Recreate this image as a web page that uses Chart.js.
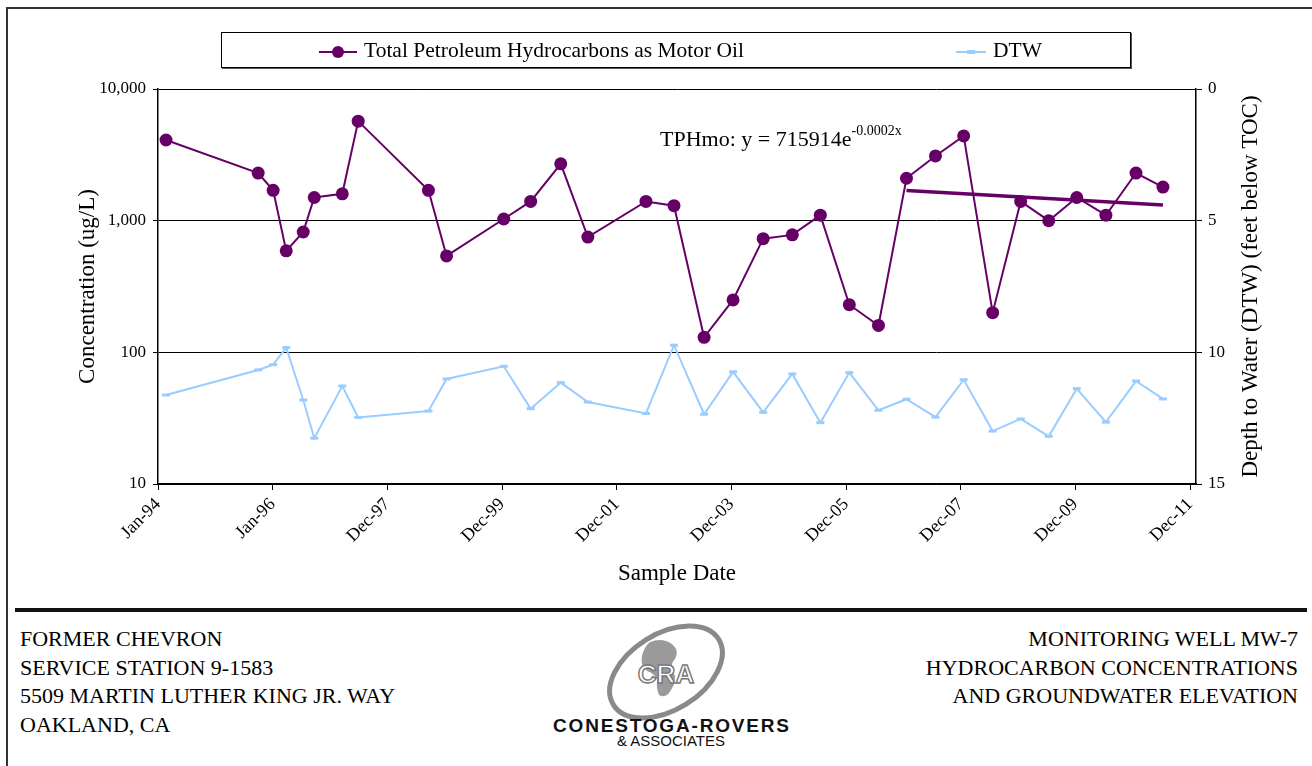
<!DOCTYPE html>
<html>
<head>
<meta charset="utf-8">
<script src="https://cdn.jsdelivr.net/npm/chart.js@4.4.0/dist/chart.umd.min.js"></script>
<style>
  body { margin: 0; background: #fff; font-family: "Liberation Serif", serif; }
  #page { position: relative; width: 1312px; height: 766px; overflow: hidden; }
  #frame { position: absolute; left: 6px; top: 7px; width: 1320px; height: 800px;
           border-left: 2px solid #333; border-top: 2px solid #333; }
  #chartWrap { position: absolute; left: 0; top: 0; width: 1312px; height: 600px; }
  #legend { position: absolute; left: 221px; top: 32px; width: 908px; height: 34px;
            border: 1px solid #000; box-shadow: 1px 1px 0 #555;
            font-family: "Liberation Serif", serif; font-size: 21.5px; }
  .item { position: absolute; top: 0; height: 34px; line-height: 34px; white-space: nowrap;
          font-family: "Liberation Serif", serif; }
  .item svg { vertical-align: middle; margin-right: 6px; }
  #eq { position: absolute; left: 660px; top: 126px; font-size: 22px; white-space: nowrap; }
  #eq sup { font-size: 14px; position: relative; top: -3px; }
  #rule { position: absolute; left: 15px; top: 608px; width: 1292px; height: 4px; background: #111; }
  .foot { position: absolute; font-size: 22px; line-height: 28.5px; top: 625px; }
  #footL { left: 20px; }
  #footR { right: 14px; text-align: right; }
  #logo { position: absolute; left: 550px; top: 622px; width: 250px; height: 130px; overflow: visible; }
</style>
</head>
<body>
<div id="page">
  <div id="frame"></div>
  <div id="chartWrap"><canvas id="mw7-chart" width="1312" height="600"></canvas></div>

  <div id="legend">
    <div class="item" style="left:96px">
      <svg width="40" height="14"><line x1="1" y1="7" x2="39" y2="7" stroke="#660066" stroke-width="2"/><circle cx="20" cy="7" r="6" fill="#660066"/></svg>Total Petroleum Hydrocarbons as Motor Oil
    </div>
    <div class="item" style="left:733px">
      <svg width="32" height="14"><line x1="1" y1="7" x2="31" y2="7" stroke="#99CCFF" stroke-width="2"/><line x1="12" y1="7" x2="20" y2="7" stroke="#99CCFF" stroke-width="4"/></svg>DTW
    </div>
  </div>

  <div id="eq">TPHmo: y = 715914e<sup>-0.0002x</sup></div>

  <div id="rule"></div>
  <div class="foot" id="footL">FORMER CHEVRON<br>SERVICE STATION 9-1583<br>5509 MARTIN LUTHER KING JR. WAY<br>OAKLAND, CA</div>
  <div class="foot" id="footR">MONITORING WELL MW-7<br>HYDROCARBON CONCENTRATIONS<br>AND GROUNDWATER ELEVATION</div>

  <svg id="logo" viewBox="0 0 250 130">
    <ellipse cx="116" cy="50" rx="62" ry="38" transform="rotate(-32 116 50)" fill="none" stroke="#8a8a8a" stroke-width="5"/>
    <path d="M100 20 q12 -5 22 2 q8 7 3 15 q-5 5 -2 12 q5 9 -2 19 q-5 9 -12 5 q-3 -7 -2 -15 q-3 -7 -10 -9 q-7 -5 -5 -15 q2 -9 8 -14z" fill="#9a9a9a"/>
    <text x="116" y="61" text-anchor="middle" font-family="Liberation Sans" font-weight="bold" font-size="26" fill="#fff" stroke="#777" stroke-width="1.4">CRA</text>
    <text x="121" y="110" text-anchor="middle" font-family="Liberation Sans" font-weight="bold" font-size="19" fill="#111" textLength="236">CONESTOGA-ROVERS</text>
    <text x="121" y="124" text-anchor="middle" font-family="Liberation Sans" font-size="15" fill="#111">&amp; ASSOCIATES</text>
  </svg>
</div>

<script>
// sample dates (approximate)
var sampleDates = [
  '1994-02-24', '1995-10-02', '1996-01-05', '1996-03-28', '1996-07-14', '1996-09-22',
  '1997-03-19', '1997-06-28', '1998-09-17', '1999-01-10', '2000-01-08', '2000-06-27',
  '2001-01-04', '2001-06-25', '2002-06-29', '2002-12-24', '2003-07-03', '2004-01-03',
  '2004-07-12', '2005-01-13', '2005-07-10', '2006-01-10', '2006-07-14', '2007-01-08',
  '2007-07-11', '2008-01-06', '2008-07-08', '2009-01-02', '2009-06-29', '2009-12-24',
  '2010-06-27', '2011-01-04', '2011-06-24'
];
// Total Petroleum Hydrocarbons as Motor Oil (ug/L)
var tphmo = [
  4100, 2300, 1700, 590, 820, 1500, 1600, 5700, 1700, 540, 1030, 1400,
  2700, 750, 1400, 1300, 130, 250, 730, 780, 1100, 230, 160, 2100,
  3100, 4400, 200, 1400, 1000, 1500, 1100, 2300, 1800
];
// depth to water (feet below TOC)
var dtw = [
  11.62, 10.67, 10.47, 9.82, 11.81, 13.26, 11.28, 12.47, 12.23, 11.01, 10.53, 12.14,
  11.15, 11.89, 12.32, 9.73, 12.35, 10.74, 12.28, 10.82, 12.67, 10.77, 12.20, 11.78,
  12.46, 11.04, 12.99, 12.53, 13.19, 11.38, 12.65, 11.09, 11.77
];
var concTicks = [10, 100, 1000, 10000];
var depthTicks = [0, 5, 10, 15];
var trendFrom = 23; // exponential trendline fitted to samples from 2007 on

var DAY = 86400000;
var monthNames = ['Jan','Feb','Mar','Apr','May','Jun','Jul','Aug','Sep','Oct','Nov','Dec'];
var xStart = Date.UTC(1994, 0, 4);
var xStep = 728 * DAY;
var xEnd = xStart + 6590 * DAY;

function toTime(s) {
  var p = s.split('-');
  return Date.UTC(+p[0], +p[1] - 1, +p[2]);
}
function dateLabel(v) {
  var d = new Date(v);
  return monthNames[d.getUTCMonth()] + '-' + String(d.getUTCFullYear()).slice(2);
}

var times = sampleDates.map(toTime);
var tphPoints = times.map(function(t, i) { return { x: t, y: tphmo[i] }; });
var dtwPoints = times.map(function(t, i) { return { x: t, y: dtw[i] }; });

// least squares fit of ln(y) against time, like the spreadsheet trendline
var tx = times.slice(trendFrom), ty = tphmo.slice(trendFrom);
var n = tx.length, sx = 0, sy = 0, sxx = 0, sxy = 0;
for (var i = 0; i < n; i++) {
  var xx = (tx[i] - tx[0]) / DAY, yy = Math.log(ty[i]);
  sx += xx; sy += yy; sxx += xx * xx; sxy += xx * yy;
}
var slope = (n * sxy - sx * sy) / (n * sxx - sx * sx);
var icpt = (sy - slope * sx) / n;
var trendPoints = [tx[0], tx[n - 1]].map(function(t) {
  return { x: t, y: Math.exp(icpt + slope * (t - tx[0]) / DAY) };
});

var serif = "'Liberation Serif', serif";
Chart.defaults.font.family = serif;
Chart.defaults.color = '#000';

// right axis title reads bottom to top
var rightTitle = {
  id: 'rightTitle',
  afterDraw: function(chart) {
    var c = chart.ctx, area = chart.chartArea;
    c.save();
    c.translate(1251, (area.top + area.bottom) / 2);
    c.rotate(-Math.PI / 2);
    c.font = '23px ' + serif;
    c.fillStyle = '#000';
    c.textAlign = 'center';
    c.textBaseline = 'middle';
    c.fillText('Depth to Water (DTW) (feet below TOC)', 0, 0);
    c.restore();
  }
};

var ctx = document.getElementById('mw7-chart').getContext('2d');
var mw7Chart = new Chart(ctx, {
  type: 'line',
  data: {
    datasets: [{
      label: 'Trend',
      data: trendPoints,
      yAxisID: 'y',
      borderColor: '#660066',
      borderWidth: 3.5,
      pointRadius: 0,
      order: 0
    }, {
      label: 'Total Petroleum Hydrocarbons as Motor Oil',
      data: tphPoints,
      yAxisID: 'y',
      borderColor: '#660066',
      backgroundColor: '#660066',
      borderWidth: 2,
      pointRadius: 6.5,
      pointBorderWidth: 0,
      order: 1
    }, {
      label: 'DTW',
      data: dtwPoints,
      yAxisID: 'y2',
      borderColor: '#99CCFF',
      backgroundColor: '#99CCFF',
      borderWidth: 2,
      pointStyle: 'line',
      pointRadius: 4,
      pointBorderWidth: 3,
      order: 2
    }]
  },
  options: {
    responsive: false,
    animation: false,
    devicePixelRatio: 1,
    layout: { padding: { top: 89, left: 70, right: 46, bottom: 8 } },
    plugins: { legend: { display: false }, tooltip: { enabled: false } },
    scales: {
      x: {
        type: 'linear',
        min: xStart,
        max: xEnd,
        afterBuildTicks: function(scale) {
          var t = [];
          for (var v = xStart; v <= xEnd; v += xStep) t.push({ value: v });
          scale.ticks = t;
        },
        afterFit: function(scale) { scale.height = 108; },
        ticks: {
          callback: function(v) { return dateLabel(v); },
          minRotation: 45, maxRotation: 45,
          font: { size: 18 }, padding: 4
        },
        grid: { drawOnChartArea: false, tickLength: 6, color: '#000' },
        border: { color: '#000', width: 1.5 },
        title: { display: true, text: 'Sample Date', font: { size: 23 }, padding: 4 }
      },
      y: {
        type: 'logarithmic',
        position: 'left',
        min: 10,
        max: 10000,
        afterBuildTicks: function(scale) {
          scale.ticks = concTicks.map(function(v) { return { value: v }; });
        },
        afterFit: function(scale) { scale.width = 88; },
        ticks: {
          callback: function(v) { return v.toLocaleString('en-US'); },
          font: { size: 17 }, padding: 7
        },
        grid: { color: '#000', lineWidth: 1, tickLength: 5 },
        border: { color: '#000', width: 1.5 },
        title: { display: true, text: 'Concentration (ug/L)', font: { size: 23 }, padding: 4 }
      },
      y2: {
        type: 'linear',
        position: 'right',
        reverse: true,
        min: 0,
        max: 15,
        afterBuildTicks: function(scale) {
          scale.ticks = depthTicks.map(function(v) { return { value: v }; });
        },
        afterFit: function(scale) { scale.width = 70; },
        ticks: { font: { size: 17 }, padding: 6 },
        grid: { drawOnChartArea: false, color: '#000', tickLength: 6 },
        border: { color: '#000', width: 1.5 }
      }
    }
  },
  plugins: [rightTitle]
});
</script>
</body>
</html>
